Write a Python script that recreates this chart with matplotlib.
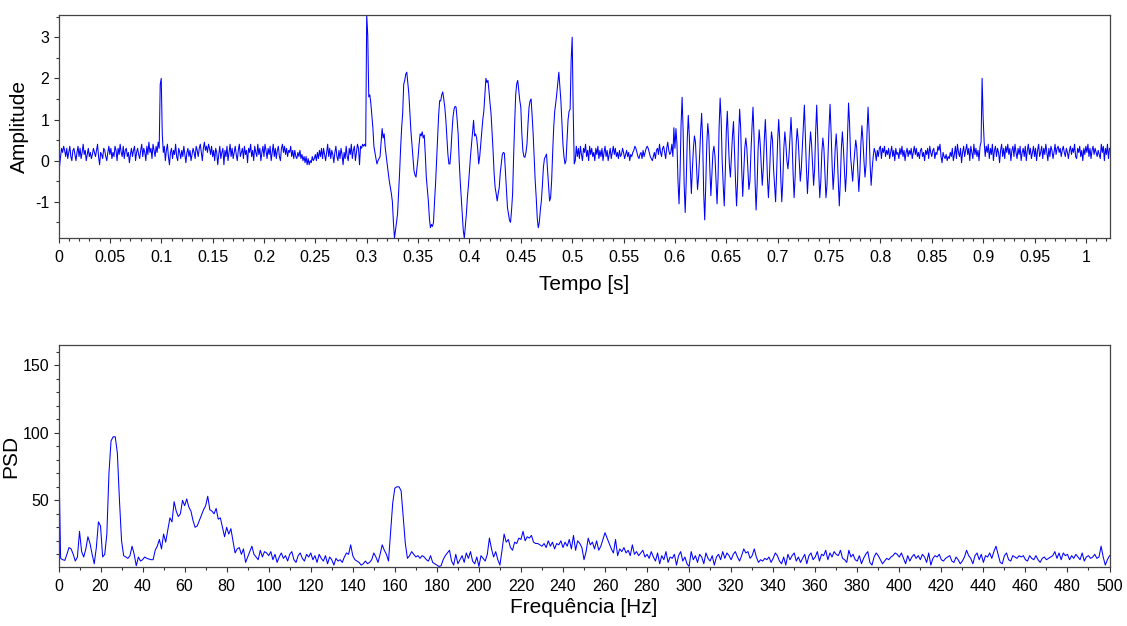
import numpy as np
import matplotlib.pyplot as plt
from matplotlib.ticker import MultipleLocator, FuncFormatter

plt.rcParams['font.family'] = ['Liberation Sans', 'DejaVu Sans']
plt.rcParams['axes.unicode_minus'] = False

fs = 1000  # sampling rate [Hz]

# signal (1 ms steps)
amp_noise_a = [  # 0 - 0.299 s
    0.3, -0.15, 0.1, 0.3, 0.2, 0.35, 0.25, 0.1, 0.3, 0.05, 0.2, 0.35, 0.1, 0.0, 0.25, 0.3, 0.15, 0.0, 0.2, 0.35,
    0.1, 0.3, 0.05, 0.2, 0.4, 0.15, 0.25, 0.0, 0.15, 0.3, 0.1, 0.2, 0.05, 0.15, 0.3, 0.2, 0.1, 0.25, 0.4, 0.1,
    -0.1, 0.2, 0.15, 0.05, 0.3, 0.25, 0.1, 0.0, 0.2, 0.35, 0.15, 0.3, 0.05, 0.2, 0.1, 0.35, 0.25, 0.0, 0.3, 0.15,
    0.4, 0.2, 0.1, 0.35, 0.05, 0.25, 0.3, 0.1, 0.2, -0.05, 0.15, 0.3, 0.1, 0.25, 0.35, 0.0, 0.2, 0.3, 0.15, 0.05,
    0.25, 0.4, 0.1, 0.3, 0.2, 0.0, 0.35, 0.15, 0.45, 0.2, 0.3, 0.05, 0.4, 0.25, 0.1, 0.35, 0.2, 0.45, 0.3, 1.85,
    2.0, 0.65, 0.2, 0.35, 0.0, 0.25, 0.4, 0.1, -0.1, 0.2, 0.3, 0.05, 0.25, 0.15, 0.4, 0.1, 0.0, 0.3, 0.2, 0.05,
    0.25, 0.1, 0.35, 0.15, -0.05, 0.2, 0.3, 0.1, 0.25, 0.0, 0.15, 0.3, 0.2, 0.05, 0.35, 0.25, 0.1, 0.3, 0.4, 0.2,
    0.0, 0.3, 0.45, 0.25, 0.35, 0.2, 0.4, 0.3, 0.15, 0.35, 0.1, 0.25, 0.0, 0.3, 0.2, -0.1, 0.15, 0.35, 0.05, 0.2,
    0.3, -0.1, 0.25, 0.1, 0.35, 0.0, 0.2, 0.4, 0.1, 0.3, 0.05, 0.2, 0.35, 0.15, 0.0, 0.25, 0.4, 0.1, 0.2, 0.3,
    0.05, 0.35, 0.15, 0.25, -0.05, 0.3, 0.2, 0.4, 0.1, 0.25, 0.0, 0.35, 0.2, 0.1, 0.4, 0.15, 0.3, 0.0, 0.2, 0.35,
    0.1, 0.4, 0.25, 0.05, 0.3, 0.15, 0.35, 0.0, 0.2, 0.4, 0.1, 0.3, 0.05, 0.25, 0.35, 0.1, 0.0, 0.3, 0.4, 0.2,
    0.35, 0.15, 0.3, 0.1, 0.25, 0.2, 0.35, 0.1, 0.25, 0.05, 0.25, 0.1, 0.05, 0.2, 0.1, 0.25, 0.05, 0.15, 0.0, 0.1,
    -0.05, 0.1, -0.1, 0.05, -0.1, 0.0, -0.05, 0.1, 0.0, 0.05, 0.15, 0.0, 0.2, 0.05, 0.25, 0.1, 0.3, 0.05, 0.3, 0.15,
    0.0, 0.2, 0.4, 0.1, 0.3, 0.05, 0.25, 0.15, -0.05, 0.2, 0.35, 0.1, 0.0, 0.25, 0.05, 0.3, 0.15, -0.1, 0.2, 0.05,
    0.35, 0.1, 0.0, 0.3, 0.15, 0.4, 0.05, 0.25, 0.35, 0.0, 0.2, 0.4, 0.3, -0.1, 0.35, 0.3, 0.4, 0.35, 0.4, 0.35,
]
amp_pulses = [  # 0.3 - 0.599 s
    3.54, 3.05, 1.55, 1.6, 1.4, 1.1, 0.8, 0.35, 0.2, 0.05, -0.08, 0.0, 0.05, 0.1, 0.45, 0.78, 0.55, 0.65, 0.32, 0.1,
    -0.1, -0.3, -0.5, -0.65, -0.8, -1.0, -1.5, -1.88, -1.7, -1.5, -1.3, -0.8, -0.3, 0.3, 0.8, 1.15, 1.85, 1.95, 2.1, 2.15,
    1.9, 1.63, 1.2, 0.73, 0.4, 0.05, -0.24, -0.35, -0.4, -0.15, 0.08, 0.4, 0.65, 0.6, 0.7, 0.55, 0.62, 0.16, -0.4, -0.7,
    -0.98, -1.4, -1.63, -1.55, -1.6, -1.5, -1.0, -0.57, 0.0, 0.6, 1.1, 1.46, 1.45, 1.6, 1.67, 1.5, 1.3, 1.0, 0.6, 0.16,
    -0.08, -0.08, 0.24, 0.7, 1.06, 1.25, 1.32, 1.3, 1.0, 0.65, 0.0, -0.49, -0.9, -1.3, -1.7, -1.88, -1.6, -1.3, -0.9, -0.6,
    -0.24, 0.1, 0.4, 0.7, 0.98, 0.6, 0.65, 0.55, 0.3, -0.08, 0.1, 0.4, 0.7, 1.0, 1.2, 1.6, 2.0, 1.9, 1.95, 1.7,
    1.4, 1.15, 0.7, 0.24, -0.3, -0.65, -0.8, -0.98, -0.8, -0.65, -0.3, -0.08, 0.15, 0.2, 0.18, -0.24, -0.7, -1.14, -1.3, -1.45,
    -1.5, -1.2, -0.81, 0.1, 0.9, 1.6, 1.87, 1.95, 1.7, 1.46, 1.3, 0.65, 0.24, 0.1, 0.08, 0.2, 0.4, 0.9, 1.3, 1.45,
    1.5, 1.1, 0.65, 0.1, -0.49, -0.9, -1.4, -1.63, -1.5, -1.2, -0.98, -0.6, -0.16, 0.05, 0.1, 0.16, -0.24, -0.6, -0.98, -0.9,
    -0.49, 0.2, 0.8, 1.2, 1.4, 1.63, 1.9, 2.15, 1.8, 1.46, 0.9, 0.4, 0.1, -0.08, 0.0, 0.5, 1.0, 1.2, 1.25, 2.45,
    3.0, 1.2, -0.08, 0.0, 0.35, 0.1, 0.3, 0.05, 0.35, 0.15, 0.0, 0.3, 0.2, 0.4, 0.1, 0.25, 0.0, 0.35, 0.15, 0.3,
    0.1, 0.2, 0.0, 0.3, 0.15, 0.35, 0.05, 0.25, 0.1, 0.3, 0.0, 0.2, 0.35, 0.1, 0.25, 0.0, 0.15, 0.3, 0.05, 0.2,
    0.35, 0.15, 0.3, 0.1, 0.2, 0.05, 0.25, 0.1, 0.15, 0.3, 0.2, 0.05, 0.15, 0.25, 0.1, 0.2, 0.0, 0.15, 0.1, 0.2,
    0.25, 0.35, 0.3, 0.2, 0.1, 0.05, 0.15, 0.2, 0.05, 0.25, 0.1, 0.2, 0.3, 0.35, 0.3, 0.2, 0.1, 0.05, 0.0, 0.1,
    0.2, 0.05, 0.25, 0.3, 0.15, 0.4, 0.2, 0.1, 0.3, 0.35, 0.2, 0.05, 0.3, 0.45, 0.25, 0.15, 0.2, 0.4, 0.1, 0.8,
]
amp_burst = [  # 0.6 - 0.799 s, ~160 Hz
    0.3, 0.78, 0.4, -0.5, -1.05, -0.3,
    0.9, 1.54, 0.7, -0.6, -1.26, -0.5,
    0.5, 1.1, 0.6, -0.2, -0.8, -0.2,
    0.3, 0.6, 0.45, -0.1, -0.7, -0.4, 0.1,
    0.7, 1.15, 0.5, -0.8, -1.44, -0.6,
    0.4, 0.9, 0.6, -0.2, -0.85, -0.3,
    0.2, 0.35, 0.1, -0.5, -1.05, -0.4,
    0.8, 1.52, 1.0, 0.0, -0.6, -1.1, -0.3,
    0.7, 1.2, 0.5, -0.1, -0.4, 0.1,
    0.6, 0.95, 0.2, -0.5, -1.1, -0.5,
    0.6, 1.25, 0.8, -0.2, -0.87, -0.3,
    0.3, 0.55, 0.3, -0.2, -0.7, -0.5, 0.2,
    0.8, 1.3, 0.6, -0.5, -1.2, -0.6,
    0.3, 0.75, 0.4, -0.1, -0.6, -0.2,
    0.5, 1.0, 0.4, -0.4, -0.9, -0.4,
    0.3, 0.7, 0.5, -0.2, -0.6, -1.0, -0.3,
    0.5, 1.0, 0.5, -0.4, -1.0, -0.5,
    0.3, 0.7, 0.4, 0.0, -0.2, 0.1,
    0.6, 1.05, 0.5, -0.3, -0.9, -0.4,
    0.4, 0.78, 0.5, 0.0, -0.5, -0.2, 0.3,
    0.8, 1.35, 0.6, -0.2, -0.8, -0.3,
    0.3, 0.7, 0.4, -0.1, -0.6, -0.2,
    0.7, 1.35, 0.6, -0.3, -0.9, -0.5,
    0.2, 0.55, 0.3, -0.3, -0.9, -0.6, 0.1,
    0.8, 1.37, 0.7, -0.1, -0.7, -0.3,
    0.3, 0.65, 0.2, -0.5, -1.1, -0.5,
    0.3, 0.7, 0.3, -0.2, -0.75, -0.3,
    0.6, 1.4, 0.9, 0.1, -0.2, -0.5, -0.1,
    0.2, 0.5, 0.3, -0.2, -0.75, -0.3,
    0.4, 0.85, 0.5, 0.0, -0.4, -0.1,
    0.7, 1.3, 0.7, -0.1, -0.6, -0.2,
    0.1, 0.3, 0.2, 0.0, 0.25, 0.1, 0.3,
]
amp_noise_b = [  # 0.8 - 1.023 s
    0.35, 0.05, 0.3, 0.2, 0.35, 0.1, 0.25, 0.15, 0.3, 0.05, 0.2, 0.35, 0.1, 0.25, 0.0, 0.3, 0.15, 0.2, 0.05, 0.3,
    0.15, 0.35, 0.1, 0.25, 0.0, 0.2, 0.3, 0.1, 0.25, 0.15, 0.3, 0.05, 0.2, 0.35, 0.15, 0.3, 0.1, 0.2, 0.05, 0.25,
    0.3, 0.1, 0.2, 0.0, 0.25, 0.15, 0.3, 0.05, 0.35, 0.2, 0.1, 0.25, 0.3, 0.05, 0.2, 0.15, 0.35, 0.25, 0.4, 0.1,
    -0.05, 0.2, 0.1, 0.05, 0.15, 0.0, 0.1, 0.05, 0.2, 0.1, 0.3, 0.0, 0.15, 0.35, 0.05, 0.4, 0.2, 0.1, 0.3, -0.05,
    0.2, 0.35, 0.1, 0.25, 0.4, 0.15, 0.3, 0.0, 0.35, 0.2, 0.05, 0.4, 0.15, 0.3, 0.1, 0.25, 0.0, 0.35, 0.45, 2.0,
    1.05, 0.45, 0.1, 0.35, 0.2, 0.4, 0.05, 0.3, 0.15, 0.4, 0.0, 0.25, 0.35, 0.1, 0.3, 0.2, -0.05, 0.25, 0.4, 0.1,
    0.3, 0.05, 0.35, 0.2, 0.4, 0.15, 0.3, 0.0, 0.25, 0.35, 0.1, 0.4, 0.2, 0.05, 0.3, 0.15, 0.35, 0.0, 0.2, 0.3,
    0.1, 0.35, 0.0, 0.25, 0.4, 0.15, 0.3, 0.05, 0.2, 0.35, 0.1, 0.3, 0.0, 0.25, 0.4, 0.1, 0.2, 0.35, 0.05, 0.3,
    0.15, 0.4, 0.2, 0.0, 0.3, 0.1, 0.35, 0.25, 0.05, 0.2, 0.4, 0.15, 0.3, 0.35, 0.2, 0.3, 0.1, 0.25, 0.35, 0.2,
    0.1, 0.3, 0.2, 0.05, 0.25, 0.35, 0.15, 0.3, 0.2, 0.4, 0.1, 0.05, 0.3, 0.2, 0.35, 0.1, 0.25, 0.0, 0.3, 0.15,
    0.35, 0.2, 0.4, 0.1, 0.3, 0.05, 0.25, 0.35, 0.15, 0.3, 0.2, 0.1, 0.25, 0.15, 0.05, 0.4, 0.2, 0.35, 0.0, 0.3,
    0.15, 0.4, 0.05, 0.3,
]

# power spectral density, 1 Hz steps from 0 to 500 Hz
psd_low = [  # 0 - 99 Hz
    97, 7, 6, 5.5, 10, 15, 14, 10, 5, 8, 27, 12, 8, 14, 23, 18, 10, 3, 15, 34,
    31, 8, 10, 25, 70, 94, 97, 97, 85, 50, 20, 9, 8, 7, 9, 16, 10, 1.5, 8, 5,
    6, 8, 7, 6.5, 6, 6, 13, 16, 21, 14, 25, 19, 28, 37, 34, 49, 42, 38, 40, 50,
    46, 51, 45, 42, 35, 30, 31, 35, 39, 43, 46, 53, 43, 42, 40, 44, 36, 37, 30, 23,
    30, 25, 29, 20, 11, 14, 15, 10, 14, 4, 8, 12, 16, 10, 8, 6, 13, 8, 12, 11,
]
psd_mid = [  # 100 - 299 Hz
    9, 12, 6, 10, 4, 8, 11, 7, 9, 5, 10, 12, 6, 4, 9, 11, 7, 5, 10, 8,
    11, 6, 9, 4, 10, 7, 5, 9, 3, 8, 6, 2, 7, 5, 6, 4, 8, 11, 10, 17,
    9, 6, 5, 4, 2, 3, 5, 3, 4, 6, 11, 8, 4, 10, 17, 13, 10, 5, 27, 48,
    59, 60, 60, 57, 37, 18, 7, 9, 12, 10, 8, 9, 7, 9, 8, 6, 5, 9, 4, 3,
    2, 1, 1.5, 6, 9, 11, 13, 5, 2, 10, 3, 6, 9, 4, 11, 7, 12, 5, 3, 8,
    1, 9, 7, 5, 10, 22, 14, 8, 12, 6, 2, 13, 25, 19, 21, 15, 13, 19, 18, 22,
    21, 27, 20, 23, 22, 24, 19, 18, 18, 17, 16, 18, 15, 20, 16, 19, 14, 18, 17, 20,
    15, 19, 16, 21, 14, 24, 13, 20, 18, 15, 6, 12, 22, 17, 19, 14, 20, 13, 16, 21,
    26, 22, 18, 14, 11, 21, 9, 14, 12, 15, 11, 13, 9, 17, 10, 12, 9, 11, 13, 8,
    10, 7, 12, 8, 5, 11, 3, 9, 6, 12, 4, 8, 7, 10, 2, 9, 12, 5, 8, 3,
]
psd_high = [  # 300 - 500 Hz
    1, 12, 6, 9, 4, 10, 8, 3, 11, 7, 5, 9, 2, 8, 10, 6, 12, 7, 11, 9,
    6, 10, 12, 8, 5, 9, 14, 11, 12, 7, 9, 14, 8, 4, 6, 5, 7, 6, 8, 4,
    7, 11, 9, 5, 3, 8, 2, 10, 6, 9, 11, 5, 8, 4, 7, 10, 3, 9, 11, 6,
    8, 12, 5, 10, 9, 13, 6, 11, 8, 12, 10, 9, 13, 7, 6, 4, 13, 8, 10, 6,
    5, 9, 3, 7, 10, 12, 4, 2, 8, 11, 9, 6, 3, 5, 7, 6, 8, 9, 11, 10,
    8, 11, 7, 3, 9, 5, 8, 10, 7, 9, 6, 10, 8, 4, 11, 2, 7, 9, 8, 10,
    6, 5, 7, 8, 9, 5, 4, 8, 6, 3, 5, 8, 13, 9, 7, 3, 9, 11, 6, 10,
    4, 9, 8, 11, 7, 12, 16, 10, 4, 3, 9, 11, 6, 5, 9, 8, 7, 9, 8, 9,
    6, 5, 9, 7, 6, 9, 6, 4, 7, 8, 6, 7, 8, 9, 12, 7, 11, 6, 11, 9,
    10, 6, 9, 7, 10, 8, 6, 11, 5, 8, 9, 7, 8, 10, 7, 8, 16, 8, 2, 6,
    9,
]

amplitude = np.array(amp_noise_a + amp_pulses + amp_burst + amp_noise_b)
t = np.arange(len(amplitude)) / fs
psd = np.array(psd_low + psd_mid + psd_high)
freq = np.linspace(0, 500, len(psd))

fig = plt.figure(figsize=(11.27, 6.26), dpi=100)
ax1 = fig.add_axes([58.5 / 1127, 1 - 238 / 626, 1051 / 1127, 223 / 626])
ax2 = fig.add_axes([58.5 / 1127, 1 - 567 / 626, 1051 / 1127, 222 / 626])


def style(ax):
    for s in ax.spines.values():
        s.set_color('#444444')
        s.set_linewidth(0.9)
    ax.tick_params(which='major', direction='out', length=3.6, width=0.8,
                   color='#333333', labelsize=11.5)
    ax.tick_params(which='minor', direction='out', length=2.2, width=0.8,
                   color='#333333')
    ax.tick_params(axis='x', which='major', pad=5)
    ax.tick_params(axis='y', which='major', pad=3)


ax1.plot(t, amplitude, color='#0000ff', lw=0.75)
ax1.set_xlim(0, t[-1])
ax1.set_ylim(amplitude.min(), amplitude.max())
ax1.set_xticks(np.arange(0, 1.0001, 0.05))
ax1.xaxis.set_major_formatter(FuncFormatter(lambda v, p: f'{v:g}'))
ax1.xaxis.set_minor_locator(MultipleLocator(0.01))
ax1.set_yticks([-1, 0, 1, 2, 3])
ax1.yaxis.set_minor_locator(MultipleLocator(0.5))
ax1.set_xlabel('Tempo [s]', fontsize=15)
ax1.set_ylabel('Amplitude', fontsize=15)
ax1.xaxis.set_label_coords(0.5, -0.165)
ax1.yaxis.set_label_coords(-0.0285, 0.5)
style(ax1)

ax2.plot(freq, psd, color='#0000ff', lw=0.75)
ax2.set_xlim(0, 500)
ax2.set_ylim(0.6, 165)
ax2.set_xticks(np.arange(0, 501, 20))
ax2.xaxis.set_minor_locator(MultipleLocator(10))
ax2.set_yticks([50, 100, 150])
ax2.yaxis.set_minor_locator(MultipleLocator(10))
ax2.set_xlabel('Frequência [Hz]', fontsize=15)
ax2.set_ylabel('PSD', fontsize=15)
ax2.xaxis.set_label_coords(0.5, -0.14)
ax2.yaxis.set_label_coords(-0.036, 0.5)
style(ax2)

fig.savefig('out.png', dpi=100)
